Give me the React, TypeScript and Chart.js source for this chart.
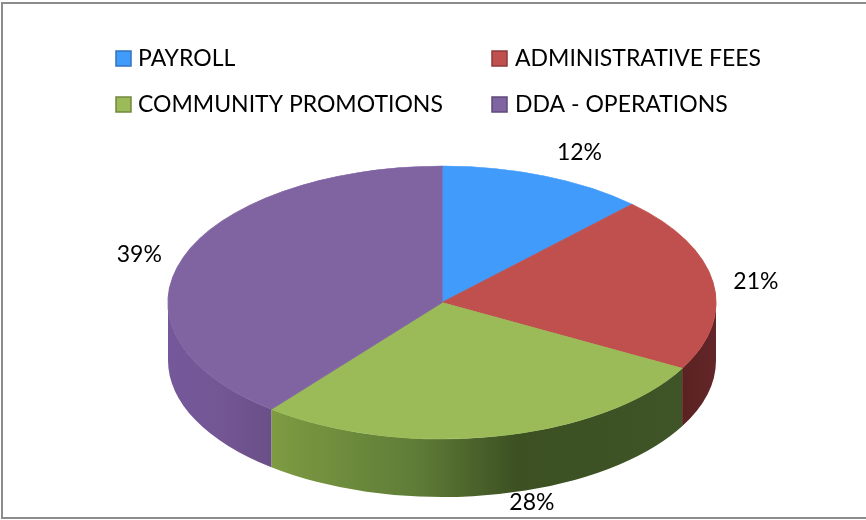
import React, { useEffect, useRef } from "react";
import { Chart, registerables } from "chart.js";

Chart.register(...registerables);

const categories = ["PAYROLL", "ADMINISTRATIVE FEES", "COMMUNITY PROMOTIONS", "DDA - OPERATIONS"];
const shares = [12.2, 20.8, 27.7, 39.3];
const topColors = ["#419BFB", "#C0504D", "#9BBB59", "#8064A2"];
const swatchEdges = ["#3273BE", "#8E3A38", "#71893F", "#5E4A7A"];

const FONT = '23px Lato, "Open Sans", sans-serif';
const CX = 442;
const CY = 302.5;
const RX = 274;
const RY = 136.5;
const DEPTH = 58;

const wallStops: Array<Array<[number, string]>> = [
  [[0, "#2c6cb5"], [1, "#1d4b80"]],
  [[0, "#5a2220"], [1, "#63262a"]],
  [[0, "#7f9c42"], [0.06, "#789640"], [0.35, "#5f7d37"], [0.6, "#3c5022"], [1, "#3f5527"]],
  [[0, "#75589a"], [0.5, "#735694"], [1, "#6a4f88"]],
];

const labelOffsets = [
  [35, -23],
  [43, 0],
  [36, 66],
  [-44, -3],
];
const legendSlots = [
  { box: 116, text: 138, y: 59 },
  { box: 492, text: 515, y: 59 },
  { box: 116, text: 138, y: 105 },
  { box: 492, text: 515, y: 105 },
];

const pie3d = {
  id: "pie3d",
  beforeDatasetsDraw(chart: any) {
    const { ctx } = chart;
    chart.getDatasetMeta(0).data.forEach((arc: any, i: number) => {
      const a = Math.max(arc.startAngle, 0);
      const b = Math.min(arc.endAngle, Math.PI);
      if (b <= a) return;
      const x0 = CX + RX * Math.cos(b);
      const x1 = CX + RX * Math.cos(a);
      const g = ctx.createLinearGradient(x0, 0, x1, 0);
      wallStops[i].forEach(([p, c]) => g.addColorStop(p, c));
      ctx.save();
      ctx.beginPath();
      ctx.ellipse(CX, CY, RX, RY, 0, a, b);
      ctx.ellipse(CX, CY + DEPTH, RX, RY, 0, b, a, true);
      ctx.closePath();
      ctx.fillStyle = g;
      ctx.fill();
      ctx.restore();
    });
  },
  beforeDatasetDraw(chart: any) {
    const { ctx } = chart;
    const arc = chart.getDatasetMeta(0).data[0];
    ctx.save();
    ctx.translate(CX, CY);
    ctx.scale(RX / arc.outerRadius, RY / arc.outerRadius);
    ctx.translate(-arc.x, -arc.y);
  },
  afterDatasetDraw(chart: any) {
    chart.ctx.restore();
  },
  afterDraw(chart: any) {
    const { ctx } = chart;
    ctx.save();
    // frame
    ctx.strokeStyle = "#8c8c8c";
    ctx.lineWidth = 2;
    ctx.beginPath();
    ctx.moveTo(870, 3);
    ctx.lineTo(2, 3);
    ctx.lineTo(2, 518);
    ctx.lineTo(870, 518);
    ctx.stroke();
    // legend
    ctx.font = FONT;
    ctx.textBaseline = "middle";
    ctx.textAlign = "left";
    (chart.data.labels as string[]).forEach((label, i) => {
      const s = legendSlots[i];
      ctx.fillStyle = topColors[i];
      ctx.strokeStyle = swatchEdges[i];
      ctx.lineWidth = 1.5;
      ctx.fillRect(s.box, s.y - 8, 15, 15);
      ctx.strokeRect(s.box, s.y - 8, 15, 15);
      ctx.fillStyle = "#000000";
      ctx.fillText(label, s.text, s.y);
    });
    // data labels
    ctx.textAlign = "center";
    chart.getDatasetMeta(0).data.forEach((arc: any, i: number) => {
      const m = (arc.startAngle + arc.endAngle) / 2;
      const x = CX + RX * Math.cos(m) + labelOffsets[i][0];
      const y = CY + RY * Math.sin(m) + labelOffsets[i][1];
      ctx.fillStyle = "#000000";
      ctx.fillText(`${Math.round(chart.data.datasets[0].data[i])}%`, x, y);
    });
    ctx.restore();
  },
};

export default function App() {
  const ref = useRef<HTMLCanvasElement>(null);
  useEffect(() => {
    if (!ref.current) return;
    const chart = new Chart(ref.current, {
      type: "pie",
      data: {
        labels: categories,
        datasets: [
          {
            data: shares,
            backgroundColor: topColors,
            borderColor: topColors,
            borderWidth: 0.4,
            clip: false,
          } as any,
        ],
      },
      options: {
        responsive: false,
        animation: false,
        events: [],
        layout: { padding: { left: 342, right: 324, top: 203, bottom: 117 } },
        plugins: { legend: { display: false }, tooltip: { enabled: false } },
      },
      plugins: [pie3d],
    });
    return () => chart.destroy();
  }, []);
  return (
    <div style={{ position: "absolute", left: 0, top: 0, width: 866, height: 520, background: "#fff" }}>
      <canvas ref={ref} width={866} height={520} style={{ display: "block" }} />
    </div>
  );
}
